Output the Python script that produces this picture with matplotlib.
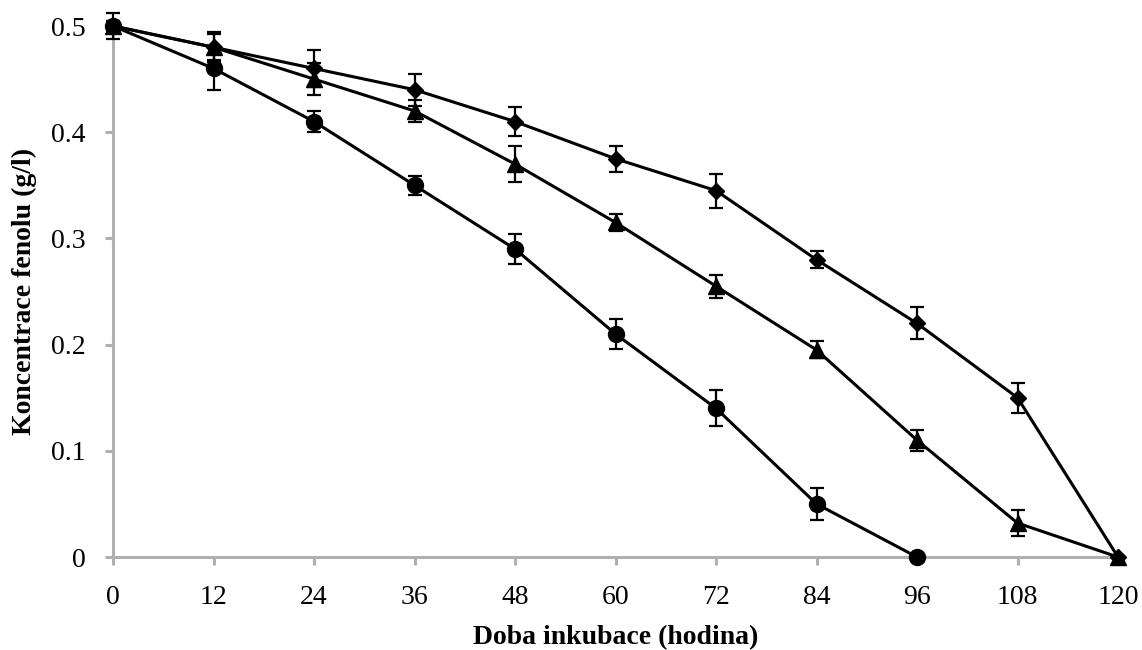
import matplotlib
matplotlib.use("Agg")
import matplotlib.pyplot as plt

hours = [0, 12, 24, 36, 48, 60, 72, 84, 96, 108, 120]
xticks = [0, 12, 24, 36, 48, 60, 72, 84, 96, 108, 120]

diamond_y = [0.5, 0.48, 0.46, 0.44, 0.41, 0.375, 0.345, 0.28, 0.22, 0.15, 0.0]
diamond_err = [0.005, 0.014, 0.017, 0.015, 0.014, 0.012, 0.016, 0.008, 0.015, 0.014, 0.0]

triangle_y = [0.5, 0.48, 0.45, 0.42, 0.37, 0.315, 0.255, 0.195, 0.11, 0.032, 0.0]
triangle_err = [0.005, 0.012, 0.015, 0.010, 0.017, 0.008, 0.011, 0.008, 0.010, 0.012, 0.0]

circle_x = [0, 12, 24, 36, 48, 60, 72, 84, 96]
circle_y = [0.5, 0.46, 0.41, 0.35, 0.29, 0.21, 0.14, 0.05, 0.0]
circle_err = [0.012, 0.020, 0.010, 0.009, 0.014, 0.014, 0.017, 0.015, 0.0]

plt.rcParams['font.family'] = ['Liberation Serif', 'DejaVu Serif']

fig = plt.figure(figsize=(11.42, 6.5), dpi=100)
ax = fig.add_axes([0.099, 0.143, 0.88, 0.817])

common = dict(color='black', ecolor='black', elinewidth=1.6, capsize=5.3,
              capthick=1.6, linewidth=2.2, clip_on=False, zorder=3)
for eb in [
    ax.errorbar(hours, diamond_y, yerr=diamond_err, marker='D', markersize=8.5, **common),
    ax.errorbar(hours, triangle_y, yerr=triangle_err, marker='^', markersize=11, **common),
    ax.errorbar(circle_x, circle_y, yerr=circle_err, marker='o', markersize=11.5, **common),
]:
    for art in list(eb.lines[1]) + list(eb.lines[2]):
        art.set_clip_on(False)

ax.set_xlim(0, 120)
ax.set_ylim(0, 0.5)
ax.set_xticks(xticks)
ax.set_xticklabels([str(t) for t in xticks])
ax.set_yticks([0, 0.1, 0.2, 0.3, 0.4, 0.5])
ax.set_yticklabels(['0', '0.1', '0.2', '0.3', '0.4', '0.5'])

for s in ['top', 'right']:
    ax.spines[s].set_visible(False)
for s in ['left', 'bottom']:
    ax.spines[s].set_color('#b0b0b0')
    ax.spines[s].set_linewidth(2.2)
    ax.spines[s].set_zorder(1)

ax.tick_params(axis='both', colors='#b0b0b0', labelcolor='black', labelsize=20,
               length=6, width=2.2, direction='out')
ax.tick_params(axis='x', pad=14)
ax.tick_params(axis='y', pad=14)

ax.set_xlabel('Doba inkubace (hodina)', fontsize=20, fontweight='bold', labelpad=11)
ax.set_ylabel('Koncentrace fenolu (g/l)', fontsize=20, fontweight='bold', labelpad=10)

fig.savefig('out.png', dpi=100)
